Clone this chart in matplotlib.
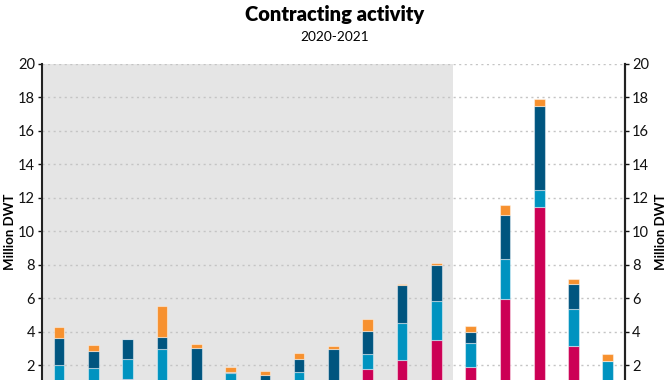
import numpy as np
import matplotlib.pyplot as plt

plt.rcParams['font.family'] = ['Lato', 'DejaVu Sans']

# monthly contracting, million DWT (Jan 2020 - May 2021)
months = np.arange(17)
seg_magenta = [0, 0, 1.19, 0, 0, 0, 0, 0, 0, 1.77, 2.33, 3.50, 1.91, 5.95, 11.46, 3.18, 0]
seg_light = [2.05, 1.85, 1.20, 3.00, 0, 1.57, 0, 1.63, 0, 0.93, 2.22, 2.37, 1.41, 2.41, 1.02, 2.17, 2.29]
seg_dark = [1.61, 1.04, 1.19, 0.70, 3.03, 0.06, 1.41, 0.76, 2.97, 1.34, 2.26, 2.15, 0.70, 2.61, 4.99, 1.49, 0]
seg_orange = [0.64, 0.31, 0, 1.83, 0.23, 0.28, 0.29, 0.37, 0.17, 0.74, 0.06, 0.10, 0.34, 0.59, 0.44, 0.30, 0.41]

colors = ['#cc0055', '#0093c0', '#00557f', '#f7912f']
yticks = np.arange(2, 21, 2)

fig = plt.figure(figsize=(6.7, 3.8), dpi=100)
ax = fig.add_axes([0.0627, -0.05, 0.870, 0.8816])

# shaded 2020 block
ax.axvspan(-0.5, 11.5, color='#e5e5e5', zorder=0, lw=0)

for yv in yticks:
    ax.axhline(yv, color='#c4c4c4', lw=1.0, ls=(0, (1.5, 2.5)), zorder=1)

bottom = np.zeros(len(months))
for seg, c in zip([seg_magenta, seg_light, seg_dark, seg_orange], colors):
    seg = np.array(seg)
    ax.bar(months, seg, bottom=bottom, width=0.31, color=c,
           edgecolor=(1, 1, 1, 0.45), linewidth=0.8, zorder=3)
    bottom += seg

ax.set_xlim(-0.5, 16.5)
ax.set_ylim(0, 20)
ax.set_yticks(yticks)
ax.set_xticks([])
for s in ['top', 'bottom']:
    ax.spines[s].set_visible(False)
for s in ['left', 'right']:
    ax.spines[s].set_linewidth(1.5)
    ax.spines[s].set_color('#222222')
ax.tick_params(axis='y', length=3, width=1, labelsize=10.5, pad=2, colors='#111111')
ax.set_ylabel('Million DWT', fontsize=9.5, fontweight='bold')
ax.yaxis.set_label_coords(-0.044, 0.5)

ax2 = ax.twinx()
ax2.set_ylim(0, 20)
ax2.set_yticks(yticks)
for s in ['top', 'bottom', 'left']:
    ax2.spines[s].set_visible(False)
ax2.spines['right'].set_linewidth(1.5)
ax2.spines['right'].set_color('#222222')
ax2.tick_params(axis='y', length=3, width=1, labelsize=10.5, pad=2, colors='#111111')
ax2.set_ylabel('Million DWT', fontsize=9.5, fontweight='bold')
ax2.yaxis.set_label_coords(1.0515, 0.5)

fig.text(0.5, 0.963, 'Contracting activity', ha='center', va='center',
         fontsize=14.5, fontweight='heavy')
fig.text(0.5, 0.903, '2020-2021', ha='center', va='center', fontsize=9.8)

fig.savefig('out.png', dpi=100)
